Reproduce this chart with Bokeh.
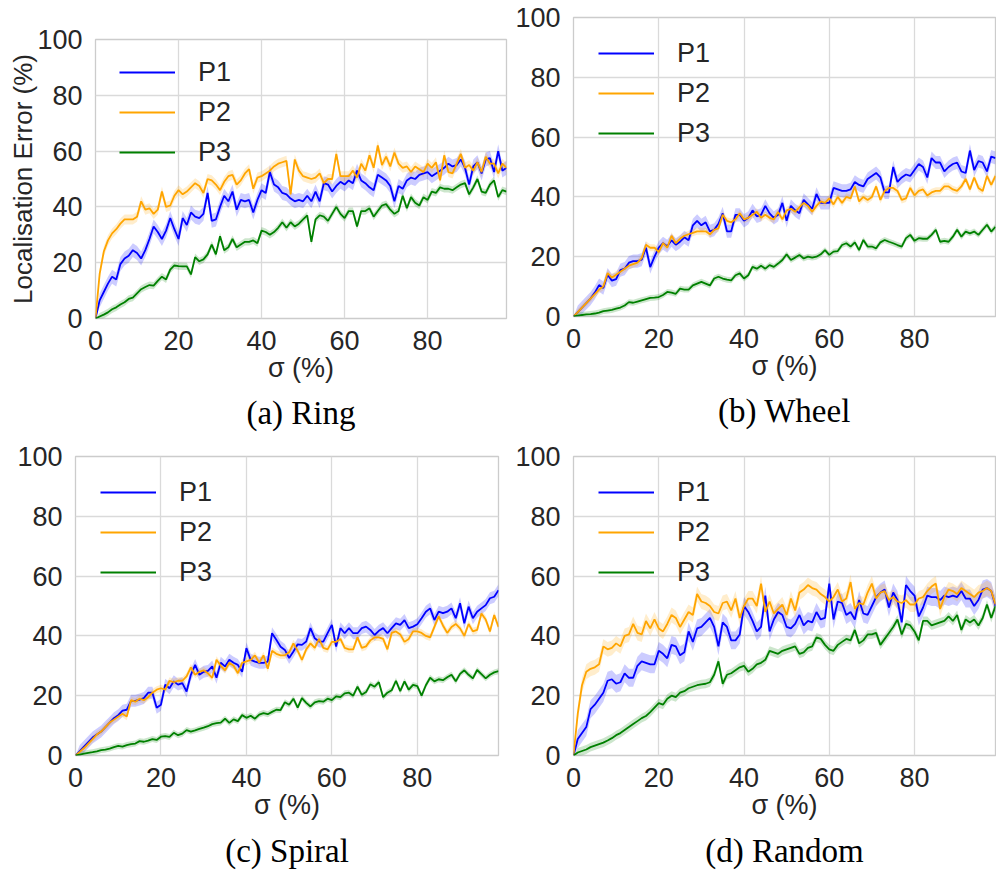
from bokeh.plotting import figure
from bokeh.models import Legend, LegendItem, Range1d, FixedTicker, Title
from bokeh.layouts import row, column
from bokeh.embed import file_html
from bokeh.resources import INLINE

sigma = list(range(100))
series_names = ["P1", "P2", "P3"]
x_ticks = [0, 20, 40, 60, 80]
y_ticks = [0, 20, 40, 60, 80, 100]

ring_p1 = [0, 6.5, 9.5, 12.5, 15, 14, 19.5, 21.5, 22.5, 24.5,
           23.5, 21.5, 24.5, 28.5, 33, 31, 28.5, 31.5, 36, 32,
           28.5, 36, 33.5, 38, 36.5, 36, 37.5, 45, 35, 35.5,
           40, 44, 42, 45.5, 39, 42.5, 42, 42.5, 38, 42.5,
           46, 45, 52.5, 48, 47, 45, 44.5, 43, 42, 42.5,
           42, 44, 42, 45.5, 42, 48.5, 48, 45.5, 47.5, 49,
           48, 49.5, 48.5, 53, 49.5, 48.5, 47, 46, 51.5, 50.5,
           49.5, 47.5, 42, 47.5, 46.5, 49.5, 50.5, 50, 51.5, 52,
           52.5, 51, 52, 53, 54, 55.5, 54.5, 55, 57, 54,
           48, 54.5, 56, 52, 57, 57.5, 52.5, 60, 53, 54]
ring_p2 = [0, 16, 24, 28, 30.5, 32, 34, 35.5, 35.5, 35.5,
           36.5, 42, 39, 39.5, 37.5, 39, 45.5, 40, 40.5, 44,
           46, 44.5, 45.5, 47, 48.5, 47.5, 45, 50, 49.5, 48,
           46, 49, 51, 51.5, 48, 49.5, 52, 53.5, 46.5, 50.5,
           51, 52, 53, 54.5, 55.5, 56, 56.5, 44.5, 57, 53,
           51, 50.5, 50, 50.5, 52, 48.5, 50, 50, 59, 51,
           51, 51, 53, 50.5, 55.5, 53, 58.5, 54, 62, 55,
           58, 54.5, 59.5, 55.5, 54, 54.5, 52.5, 54.5, 53.5, 52.5,
           55.5, 54, 56, 49.5, 58.5, 52.5, 52, 55.5, 59, 54,
           55, 53, 56, 52.5, 58, 55.5, 55.5, 52, 55.5, 54]
ring_p3 = [0, 0.7, 1.4, 2.2, 3.3, 4, 5, 5.8, 7, 7.5,
           9, 10.5, 11.3, 12, 11.8, 13.5, 15, 14, 17.5, 19,
           18.8, 18.7, 18.7, 15.8, 22, 20.5, 21.2, 23, 26.5, 23,
           29.5, 24.5, 25.5, 28.5, 25.5, 26.5, 27.5, 27.5, 28, 27,
           31.5, 31, 30, 31, 32.5, 34.5, 32.5, 34.5, 33, 34,
           35.5, 37, 27.5, 35.5, 37, 36.5, 35, 37.5, 40, 37.5,
           36, 38.5, 38.5, 33, 38.5, 38.5, 39.5, 36.5, 38.5, 40.5,
           41, 39, 37.5, 38.5, 44, 39.5, 43.5, 41.5, 40.5, 43.5,
           42.5, 45.5, 45, 47, 46.5, 46.5, 46, 47, 48, 48.5,
           44.5, 47, 50, 45.5, 45, 48, 49.5, 43.5, 46, 45.5]

wheel_p1 = [0, 1.5, 3, 4.5, 6, 8, 10.5, 9.5, 14, 12,
            12.5, 15.5, 16, 18, 18.5, 18.5, 19, 23, 16.5, 20,
            23, 24.5, 23.5, 25.5, 24, 25, 26.5, 25.5, 30.5, 32,
            30.5, 31.5, 28.5, 29, 31, 34.5, 28.5, 28.5, 34, 34,
            32, 33, 35.5, 33.5, 34, 37, 34.5, 33, 34, 38,
            32, 37, 35.5, 34.5, 39, 37.5, 36, 41, 38, 38,
            38, 43, 42.5, 42, 42, 42.5, 45, 44, 43.5, 46,
            47, 48, 46.5, 41.5, 41.5, 50, 45, 46.5, 47.5, 47,
            49, 51, 50, 46.5, 53, 51.5, 51.5, 48.5, 50, 51,
            51.5, 48.5, 48, 55.5, 49, 52, 51.5, 48.5, 53.5, 53]
wheel_p2 = [0, 1.5, 3, 4.5, 6, 7.5, 9, 10, 14.5, 13,
            14, 15, 16, 17, 17.5, 18, 19.5, 24, 23, 23,
            21.5, 24.5, 23, 27, 24.5, 26, 27, 27.5, 28, 28.5,
            28.5, 28.5, 27.5, 29, 29.5, 34, 32, 31.5, 32.5, 34.5,
            32.5, 33, 34, 35, 33, 34, 33, 32.5, 35, 32.5,
            35.5, 36, 35, 36.5, 38, 37, 35, 37, 38.5, 38,
            39.5, 37.5, 40, 38, 40, 39.5, 43.5, 38.5, 40, 39,
            40, 43.5, 39, 42, 43, 43, 42, 39, 39.5, 43,
            40.5, 42, 42.5, 40.5, 41.5, 42, 42, 43.5, 43.5, 42.5,
            42, 43.5, 46, 42.5, 46.5, 43, 42, 47, 44, 47]
wheel_p3 = [0, 0.3, 0.5, 0.7, 0.8, 1, 1.3, 1.8, 2, 2.2,
            2.6, 3, 3.7, 4.8, 4.6, 5, 5.4, 5.8, 6.2, 6.3,
            6.5, 7.2, 8.2, 8, 7.6, 9.3, 9, 9, 10.4, 11,
            11.6, 11, 10.4, 12.7, 13.3, 12.7, 12.3, 12.1, 13.8, 14.4,
            12.7, 13.8, 16.6, 16, 17, 16, 17.2, 16.6, 17.7, 18.9,
            20.8, 18.9, 19.7, 20.6, 19.4, 20, 19.7, 20, 20.8, 22.2,
            20.6, 21.7, 21.9, 23.9, 24.5, 23.4, 24.8, 22.2, 25.6, 23.4,
            23.4, 22.8, 24.8, 25.6, 25, 24.5, 23.9, 23.4, 26.2, 27.3,
            25.3, 26.2, 26, 26, 27.3, 29, 25, 25.3, 25, 26.7,
            29, 26.7, 28.4, 27.8, 28.4, 27.3, 29, 30.7, 28.4, 30]

spiral_p1 = [0, 1.5, 3, 4.5, 6, 7, 8, 9.5, 11, 12.5,
             13.5, 15, 15.3, 18.3, 18.3, 18.7, 19.2, 21, 21, 16,
             17, 23.7, 22.5, 24.8, 23.7, 24.2, 21.4, 27, 30.3, 27,
             28, 28.3, 29.8, 26, 31, 29.8, 32, 31, 30.3, 28,
             35.9, 32, 31.4, 31, 31, 31.4, 40.9, 38.7, 36.4, 35.3,
             32.6, 34.8, 37.2, 37, 38.1, 42.6, 39.2, 38.1, 38.1, 40.9,
             43.7, 36.4, 42.6, 40.9, 42.6, 40.9, 40.9, 42.6, 43.1, 42,
             40.3, 41.7, 42.6, 40.9, 42.6, 44.2, 43.7, 45.3, 42.6, 43.1,
             43.9, 45.9, 48.1, 49.2, 45.3, 48.1, 47.6, 48.1, 49.2, 45.9,
             50.9, 44.2, 49.8, 45.9, 48.1, 49.2, 50.3, 52.6, 53.1, 55.3]
spiral_p2 = [0, 1.2, 2.5, 4, 5.5, 7, 8, 9.5, 11, 12,
             13, 14, 13, 18.5, 18, 19, 18.5, 19.5, 21, 22,
             22.5, 22, 25, 24.5, 25, 25, 26.5, 29.5, 27, 28,
             28.5, 27.5, 26, 32, 30, 28.5, 31, 30, 27.5, 31,
             31.5, 32, 33.5, 31, 33.5, 29, 35, 34, 33.5, 33.5,
             34.5, 37.5, 35, 32, 35.5, 37.5, 36, 39, 36, 35.5,
             38, 38, 39, 36, 35.5, 35.5, 39.5, 36, 36.5, 38.5,
             39.5, 39.5, 39, 35.5, 41, 41.5, 40.5, 38, 39, 41.5,
             41.5, 41, 40, 39.5, 43, 46.5, 43.5, 41, 43, 44,
             42.5, 40, 44, 41.5, 42, 47.5, 45.5, 41.5, 47, 43]
spiral_p3 = [0, 0.3, 0.6, 0.9, 1.1, 1.4, 1.8, 2, 2.3, 2.8,
             3.2, 3, 3.5, 3.8, 4, 4.8, 4.6, 5, 5.5, 5.2,
             6.3, 6.5, 6.2, 7.6, 6.8, 7.3, 8.5, 8, 8.4, 8.9,
             9.3, 9.8, 10.5, 10.8, 11, 12.3, 10.9, 12.1, 11.5, 13.5,
             12.6, 13.3, 12.3, 13.7, 14.2, 13.8, 14.6, 15.3, 15.2, 17.8,
             17, 19, 16, 19.2, 17.6, 16.4, 17.8, 18.2, 18, 19,
             18.5, 19.8, 19.5, 20.8, 21, 20, 23, 20.3, 21.2, 23.8,
             23, 24.5, 19.5, 21, 21.8, 25, 21.5, 24.8, 22, 23.6,
             23.2, 20, 23.5, 26, 24.8, 25.5, 25.2, 26.2, 27, 24.8,
             27.3, 28.5, 27, 25.8, 28.6, 27.2, 25.8, 27, 27.8, 28.2]

random_p1 = [0, 5.5, 7.5, 9.5, 15.5, 17, 19, 21, 25, 25.5,
             24, 24.5, 27.5, 26, 26, 30, 31.5, 31, 30.5, 30.5,
             35, 34, 32.5, 37, 36.5, 33.5, 34.5, 41.5, 38, 42.5,
             43, 44.5, 46, 43, 36.5, 44.5, 43, 38.5, 38.5, 40.5,
             50, 48, 45, 41.5, 43, 53.5, 41.5, 45.5, 48, 47,
             43, 42.5, 44, 47, 43.5, 45, 44.5, 48, 45.5, 46,
             57.5, 45.5, 51.5, 51, 47, 48, 45.5, 52, 47.5, 47,
             50, 53, 54.5, 55.5, 49.5, 54.5, 52, 44.5, 57, 55,
             53.5, 46.5, 49.5, 53.5, 53, 53, 52, 53.5, 53, 53.5,
             53, 55, 52.5, 52.5, 50, 52, 55.5, 56, 55, 50]
random_p2 = [0, 14, 23.5, 28, 29, 29.5, 30.5, 36.5, 35.5, 36,
             37.5, 36.5, 40, 40.5, 44, 41, 40.5, 45, 42.5, 45.5,
             42.5, 41.5, 44, 47, 46, 43, 45.5, 48, 47, 54,
             51.5, 51, 50, 48, 47.5, 51, 51.5, 48.5, 52.5, 46,
             50, 52.5, 52.5, 50, 57.5, 48, 51.5, 47.5, 49, 50.5,
             47, 52.5, 48.5, 54.5, 55.5, 57, 56, 55.5, 54, 53,
             51.5, 53, 55.5, 51.5, 52.5, 58, 49, 51, 50.5, 54.5,
             57.5, 52.5, 54.5, 55, 52, 53, 51.5, 51, 52, 50.5,
             50.5, 52.5, 53, 55, 56.5, 57.5, 49, 53, 55.5, 55,
             54, 56, 55, 54, 53, 54.5, 55, 56, 55, 50.5]
random_p3 = [0, 1, 1.5, 2, 2.8, 3.3, 3.8, 4.3, 5, 5.8,
             6.8, 7.5, 8.5, 9.5, 10.5, 11.5, 12.5, 13.2, 14.5, 16,
             17.5, 17, 19, 20, 19.5, 21, 21.5, 22.5, 23, 23.5,
             23.8, 24, 24.5, 27, 31.5, 24, 27, 27.5, 28.5, 29.5,
             30, 28, 29, 30.5, 31, 32, 35, 34.5, 34, 35,
             35.5, 36, 36.5, 34, 34.5, 36, 36.5, 39.5, 39, 37,
             35.5, 35, 37, 38, 39, 38.5, 42, 37.5, 38.5, 40.5,
             40.5, 41, 37, 39, 41, 43, 45.5, 40.5, 44, 43.5,
             41.5, 38.5, 45, 45, 43.5, 44, 44.5, 45, 46.5, 45,
             47, 42, 45.5, 44.5, 45.5, 43.5, 46, 50.5, 46, 50]

# half-width of the shaded band for P1, P2, P3 in each panel
band_ring = [2.5, 1.8, 1.3]
band_wheel = [2.2, 1.2, 1.0]
band_spiral = [2.0, 1.2, 1.0]
band_random = [3.0, 2.5, 1.5]

titles = ["(a) Ring", "(b) Wheel", "(c) Spiral", "(d) Random"]
colors = ["#0000ff", "#ffa500", "#008000"]
TXT = "#262626"
SANS = "Liberation Sans"


def make_panel(title, ys, bands, w, h, bl, br, bt, bb, leg_xy, tstand, ylabel=None):
    p = figure(width=w, height=h,
               min_border_left=bl, min_border_right=br,
               min_border_top=bt, min_border_bottom=bb,
               x_range=Range1d(0, 99), y_range=Range1d(0, 100),
               output_backend="svg", toolbar_location=None)
    p.outline_line_color = "#cccccc"
    p.outline_line_width = 1.3
    p.background_fill_color = "white"
    p.border_fill_color = "white"
    for g in (p.xgrid[0], p.ygrid[0]):
        g.grid_line_color = "#dadada"
        g.grid_line_width = 1.3
    p.xaxis.ticker = FixedTicker(ticks=x_ticks)
    p.yaxis.ticker = FixedTicker(ticks=y_ticks)
    for ax in (p.xaxis[0], p.yaxis[0]):
        ax.axis_line_color = None
        ax.major_tick_line_color = None
        ax.minor_tick_line_color = None
        ax.major_label_text_font = SANS
        ax.major_label_text_font_size = "27px"
        ax.major_label_text_color = TXT
        ax.axis_label_text_font = SANS
        ax.axis_label_text_font_style = "normal"
        ax.axis_label_text_color = TXT
    p.xaxis.axis_label_text_font_size = "27px"
    p.yaxis.axis_label_text_font_size = "26px"
    p.xaxis.major_label_standoff = 6
    p.yaxis.major_label_standoff = 7
    p.xaxis.axis_label = "\u03c3 (%)"
    p.xaxis.axis_label_standoff = 0
    if ylabel:
        p.yaxis.axis_label = ylabel
        p.yaxis.axis_label_standoff = -4
    items = []
    for name, y, c, hw in zip(series_names, ys, colors, bands):
        lo = [v - hw if i > 0 else v for i, v in enumerate(y)]
        hi = [v + hw if i > 0 else v for i, v in enumerate(y)]
        p.varea(x=sigma, y1=lo, y2=hi, fill_color=c, fill_alpha=0.2)
    for name, y, c in zip(series_names, ys, colors):
        r = p.line(sigma, y, line_color=c, line_width=1.8)
        items.append(LegendItem(label=name, renderers=[r]))
    leg = Legend(items=items, location=leg_xy, glyph_width=56, glyph_height=40,
                 label_height=40, label_standoff=23, spacing=0, padding=0, margin=0,
                 border_line_color=None, background_fill_alpha=0,
                 label_text_font=SANS, label_text_font_size="27px",
                 label_text_color=TXT)
    p.add_layout(leg)
    p.add_layout(Title(text=title, align="center", text_font="Liberation Serif",
                       text_font_size="33px", text_font_style="normal",
                       text_color="black", standoff=tstand), "below")
    return p


pa = make_panel(titles[0], [ring_p1, ring_p2, ring_p3], band_ring,
                512, 438, 95, 6, 39, 119, (24, 146), 15, "Localisation Error (%)")
pb = make_panel(titles[1], [wheel_p1, wheel_p2, wheel_p3], band_wheel,
                484, 438, 61, 1, 17, 122, (25, 163), 14)
pc = make_panel(titles[2], [spiral_p1, spiral_p2, spiral_p3], band_spiral,
                512, 438, 75, 14, 18, 120, (25, 163), 16)
pd = make_panel(titles[3], [random_p1, random_p2, random_p3], band_random,
                484, 438, 61, 1, 18, 120, (25, 163), 16)

layout = column(row(column(pa), column(pb)), row(column(pc), column(pd)))
open("out.html", "w").write(file_html(layout, INLINE))
